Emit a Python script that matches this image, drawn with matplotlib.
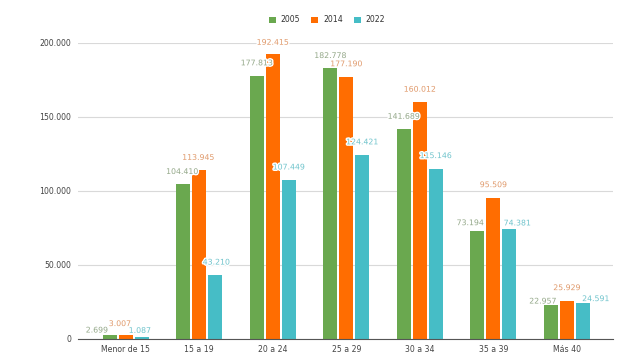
import matplotlib.pyplot as plt
import matplotlib.patheffects as pe
from matplotlib.ticker import FuncFormatter
import numpy as np

categories = ["Menor de 15", "15 a 19", "20 a 24", "25 a 29", "30 a 34", "35 a 39", "Más 40"]
years = ["2005", "2014", "2022"]
v2005 = [2699, 104410, 177813, 182778, 141689, 73194, 22957]
v2014 = [3007, 113945, 192415, 177190, 160012, 95509, 25929]
v2022 = [1087, 43210, 107449, 124421, 115146, 74381, 24591]

bar_colors = ["#6aa84f", "#ff6d01", "#46bdc6"]
label_colors = ["#94a889", "#e09a6c", "#70c4cc"]

# label nudges in pixels (dx, dy down) to mimic the reference's collision layout
nudge_2005 = [(-13, 8), (-1, 0), (0, 0), (0, 0), (0, 0), (-7, 5), (-8, 9)]
nudge_2014 = [(-6, 2), (-1, 0), (0, 1), (0, 0), (0, 0), (0, 0), (0, 0)]
nudge_2022 = [(-2, 6), (1, 0), (0, 0), (0, 0), (0, 0), (8, 7), (13, 9)]

fig = plt.figure(figsize=(6.42, 3.61), dpi=100)
ax = fig.add_axes([78 / 642, 22 / 361, 535 / 642, 296 / 361])

x = np.arange(len(categories))
w = 0.195
step = 0.218
series = [v2005, v2014, v2022]
nudges = [nudge_2005, nudge_2014, nudge_2022]
for i, (vals, yr) in enumerate(zip(series, years)):
    xs = x + (i - 1) * step
    ax.bar(xs, vals, width=w, color=bar_colors[i], label=yr, zorder=2)
    for xi, v, (dx, dy) in zip(xs, vals, nudges[i]):
        ax.annotate(f"{v:,}".replace(",", "."), (xi, v), xytext=(dx, 13 - dy),
                    textcoords="offset pixels", ha="center", va="center",
                    fontsize=5.6, color=label_colors[i], zorder=4, annotation_clip=False,
                    path_effects=[pe.withStroke(linewidth=2, foreground="white")])

ax.set_xlim(-0.65, 6.63)
ax.set_ylim(0, 200000)
ax.set_yticks([0, 50000, 100000, 150000, 200000])
ax.yaxis.set_major_formatter(FuncFormatter(lambda v, p: f"{int(v):,}".replace(",", ".")))
ax.set_xticks(x)
ax.set_xticklabels(categories)
ax.tick_params(axis="both", length=0, labelsize=5.6, colors="#444444")
ax.tick_params(axis="y", pad=5)
ax.tick_params(axis="x", pad=4)
ax.grid(axis="y", color="#d9d9d9", linewidth=0.8, zorder=0)
for s in ["top", "right", "left"]:
    ax.spines[s].set_visible(False)
ax.spines["bottom"].set_color("#555555")
ax.spines["bottom"].set_linewidth(0.8)

fig.legend(loc="center", bbox_to_anchor=(327 / 642, 1 - 20 / 361), ncol=3, frameon=False,
           fontsize=5.6, handlelength=0.9, handleheight=0.9, handletextpad=0.6,
           columnspacing=1.4, labelcolor="#333333")

fig.savefig("out.png", dpi=100)
